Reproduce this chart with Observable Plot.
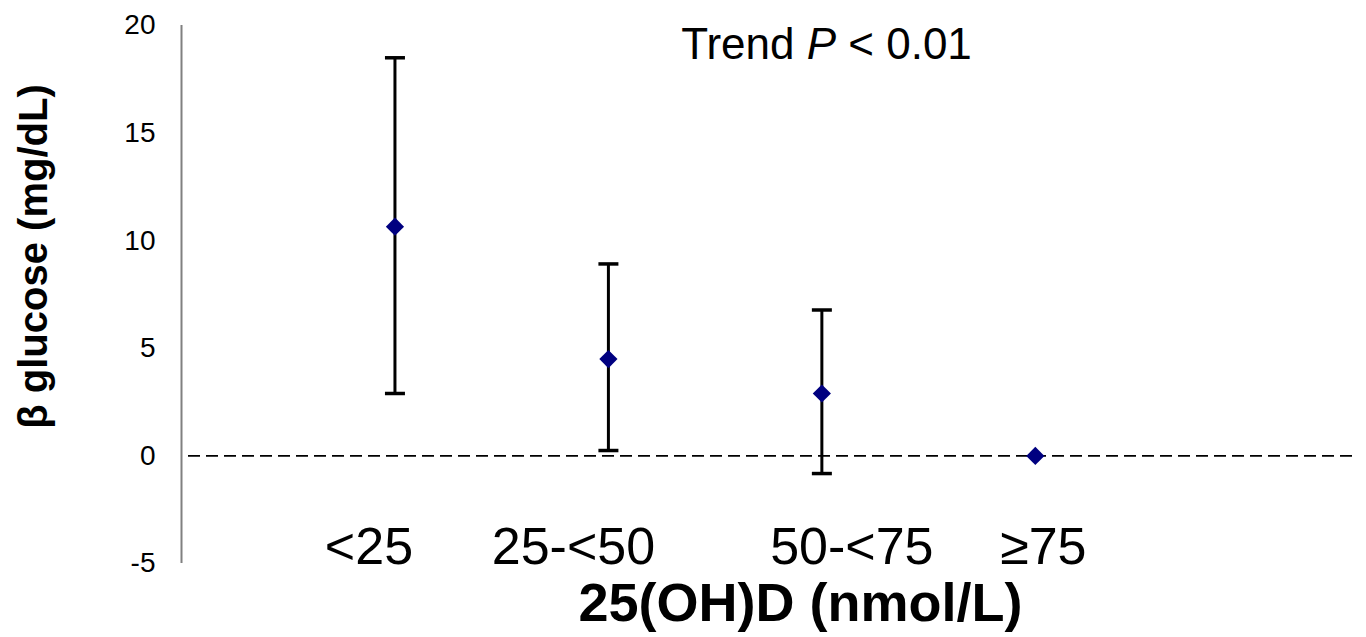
<!DOCTYPE html>
<html>
<head>
<meta charset="utf-8">
<script src="https://cdn.jsdelivr.net/npm/d3@7"></script>
<script src="https://cdn.jsdelivr.net/npm/@observablehq/plot@0.6"></script>
<style>
  html, body { margin: 0; padding: 0; background: #fff; }
  svg { display: block; }
</style>
</head>
<body>
<div id="chart"></div>
<script>
// ---- data ----
const categories = ["<25", "25-<50", "50-<75", "≥75"];
const beta  = [10.65, 4.5, 2.9, 0];
const lower = [2.9, 0.25, -0.82, null];
const upper = [18.5, 8.92, 6.78, null];
const yTicks = [-5, 0, 5, 10, 15, 20];
const xTitle = "25(OH)D (nmol/L)";
const yTitle = "β glucose (mg/dL)";
const note = "Trend P < 0.01";

// layout only: horizontal nudges (px) of the category labels, as drawn in the source figure
const labelNudge = [-26, -35, 30, 8];

const rows = categories.map((c, i) => ({cat: c, pos: i + 1, beta: beta[i], lo: lower[i], hi: upper[i]}));
const ci = rows.filter(d => d.lo != null);

const font = "'Liberation Sans', Arial, Helvetica, sans-serif";
const capSymbol = { draw(ctx) { ctx.moveTo(-10, 0); ctx.lineTo(10, 0); } };

const chart = Plot.plot({
  width: 1366,
  height: 637,
  marginLeft: 181,
  marginRight: 11,
  marginTop: 25,
  marginBottom: 74,
  style: { fontFamily: font, background: "#fff", color: "#000" },
  x: { domain: [0, 5.5], axis: null },
  y: { domain: [-5, 20], axis: null },
  marks: [
    // y axis line
    Plot.ruleX([0], { stroke: "#808080", strokeWidth: 2 }),
    // y tick labels
    Plot.axisY(yTicks, { tickSize: 0, tickPadding: 26, fontSize: 28, stroke: null, fill: "#000", tickFormat: d => String(d) }),
    // zero reference
    Plot.ruleY([0], { stroke: "#000", strokeWidth: 1.8, strokeDasharray: "12,6", insetLeft: 7 }),
    // error bars
    Plot.ruleX(ci, { x: "pos", y1: "lo", y2: "hi", stroke: "#000", strokeWidth: 3 }),
    Plot.dot(ci, { x: "pos", y: "lo", symbol: capSymbol, stroke: "#000", strokeWidth: 3.5, r: 5 }),
    Plot.dot(ci, { x: "pos", y: "hi", symbol: capSymbol, stroke: "#000", strokeWidth: 3.5, r: 5 }),
    // point estimates
    Plot.dot(rows, { x: "pos", y: "beta", symbol: "diamond2", r: 8.2, fill: "#000080", stroke: null }),
    // category labels
    ...rows.map((r, i) => Plot.text([r], { x: "pos", y: () => -5, text: "cat", lineAnchor: "bottom", dx: labelNudge[i], fontSize: 52, fill: "#000" })),
    // axis titles
    Plot.text([xTitle], { frameAnchor: "bottom", lineAnchor: "bottom", dx: 32, dy: 57, fontSize: 54, fontWeight: "bold", fill: "#000" }),
    Plot.text([yTitle], { frameAnchor: "left", textAnchor: "middle", rotate: -90, dx: -147, dy: -38, fontSize: 40, fontWeight: "bold", fill: "#000" }),
    // trend annotation
    Plot.text([note], { frameAnchor: "top", lineAnchor: "bottom", dx: 58, dy: 33, fontSize: 44, fill: "#000" })
  ]
});

document.getElementById("chart").appendChild(chart);

// italicise the "P" of the annotation
d3.select(chart).selectAll("text").each(function () {
  const t = d3.select(this);
  if (t.text() === note) {
    const parts = note.split("P");
    t.text(null);
    t.append("tspan").text(parts[0]);
    t.append("tspan").attr("font-style", "italic").text("P");
    t.append("tspan").text(parts[1]);
  }
});
</script>
</body>
</html>
